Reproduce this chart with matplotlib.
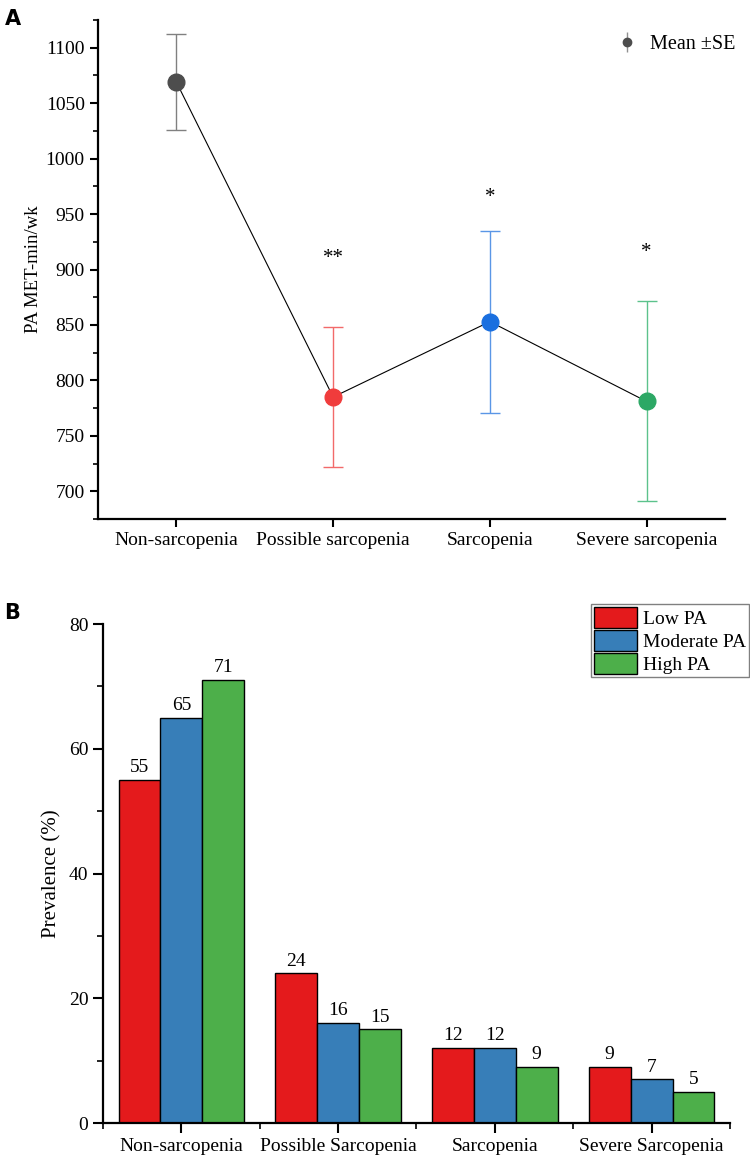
import matplotlib.pyplot as plt
import numpy as np
from matplotlib.ticker import MultipleLocator, AutoMinorLocator, FormatStrFormatter

plt.rcParams['font.family'] = ['Liberation Serif', 'DejaVu Serif']
plt.rcParams['mathtext.fontset'] = 'custom'
plt.rcParams['mathtext.rm'] = 'Liberation Serif'

# panel A data
groups_a = ['Non-sarcopenia', 'Possible sarcopenia', 'Sarcopenia', 'Severe sarcopenia']
mean_pa = [1069, 785, 853, 781]
se_low = [1026, 722, 771, 691]
se_high = [1112, 848, 935, 872]
stars = ['', '**', '*', '*']
star_y = [np.nan, 910, 965, 915]
dot_colors = ['#4d4d4d', '#f03c3c', '#1a6fdf', '#2ca865']
bar_colors = ['#808080', '#f26a6a', '#5a96e6', '#5cc28c']

# panel B data
groups_b = ['Non-sarcopenia', 'Possible Sarcopenia', 'Sarcopenia', 'Severe Sarcopenia']
low_pa = [55, 24, 12, 9]
mod_pa = [65, 16, 12, 7]
high_pa = [71, 15, 9, 5]
series_names = ['Low PA', 'Moderate PA', 'High PA']
series_colors = ['#e41a1c', '#377eb8', '#4daf4a']

fs = 14

fig = plt.figure(figsize=(7.5, 11.64), dpi=100)

# ---- A ----
ax1 = fig.add_axes([0.1307, 0.5541, 0.836, 0.4287])
x = np.arange(len(groups_a))
ax1.plot(x, mean_pa, color='black', lw=0.8, zorder=1)
for i in range(len(x)):
    lo = mean_pa[i] - se_low[i]
    hi = se_high[i] - mean_pa[i]
    ax1.errorbar(x[i], mean_pa[i], yerr=[[lo], [hi]], fmt='none', ecolor=bar_colors[i],
                 elinewidth=1.0, capsize=7, capthick=1.0, zorder=2)
    ax1.plot(x[i], mean_pa[i], 'o', ms=12, color=dot_colors[i], zorder=3)
    if stars[i]:
        ax1.text(x[i], star_y[i], stars[i], ha='center', va='center', fontsize=15)

# legend handle
ax1.errorbar([], [], yerr=[], fmt='o', ms=6, color='#4d4d4d', ecolor='#909090',
             capsize=4, elinewidth=1, label='Mean \u00b1SE')
ax1.legend(loc='upper right', frameon=False, fontsize=14.5, handlelength=1.0,
           bbox_to_anchor=(1.035, 0.995), borderaxespad=0.2, handletextpad=0.6)

ax1.set_xlim(-0.5, 3.5)
ax1.set_ylim(675, 1125)
ax1.set_xticks(x)
ax1.set_xticklabels(groups_a, fontsize=fs)
ax1.yaxis.set_major_locator(MultipleLocator(50))
ax1.yaxis.set_minor_locator(AutoMinorLocator(2))
ax1.yaxis.set_major_formatter(FormatStrFormatter('%d'))
ax1.tick_params(axis='both', which='major', direction='out', length=6, width=1.5, labelsize=fs)
ax1.tick_params(axis='y', which='minor', direction='out', length=3.5, width=1.2)
ax1.set_ylabel('PA MET-min/wk', fontsize=13.5, labelpad=3)
for s in ['top', 'right']:
    ax1.spines[s].set_visible(False)
for s in ['left', 'bottom']:
    ax1.spines[s].set_linewidth(1.6)

fig.text(0.006, 0.992, 'A', fontsize=15, fontweight='bold', family='DejaVu Sans', va='top')

# ---- B ----
ax2 = fig.add_axes([0.1373, 0.0352, 0.836, 0.4287])
xb = np.arange(len(groups_b))
w = 0.267
for k, vals in enumerate([low_pa, mod_pa, high_pa]):
    pos = xb + (k - 1) * w
    ax2.bar(pos, vals, width=w, color=series_colors[k], edgecolor='black',
            linewidth=1.0, label=series_names[k])
    for p, v in zip(pos, vals):
        ax2.text(p, v + 0.6, str(v), ha='center', va='bottom', fontsize=fs)

ax2.set_xlim(-0.5, 3.5)
ax2.set_ylim(0, 80)
ax2.set_xticks(xb)
ax2.set_xticklabels(groups_b, fontsize=fs)
ax2.set_xticks(np.arange(-0.5, 4.0, 1.0), minor=True)
ax2.yaxis.set_major_locator(MultipleLocator(20))
ax2.yaxis.set_minor_locator(AutoMinorLocator(2))
ax2.yaxis.set_major_formatter(FormatStrFormatter('%d'))
ax2.tick_params(axis='both', which='major', direction='out', length=7, width=1.5, labelsize=fs)
ax2.tick_params(axis='both', which='minor', direction='out', length=4, width=1.2)
ax2.set_ylabel('Prevalence (%)', fontsize=15, labelpad=5)
for s in ['top', 'right']:
    ax2.spines[s].set_visible(False)
for s in ['left', 'bottom']:
    ax2.spines[s].set_linewidth(1.6)

leg = ax2.legend(loc='upper right', fontsize=fs, fancybox=False, framealpha=1,
                 edgecolor='#808080', handlelength=2.2, handleheight=1.3,
                 handletextpad=0.3, labelspacing=0.1, borderpad=0.15,
                 borderaxespad=0.0, bbox_to_anchor=(1.03, 1.04))
leg.get_frame().set_linewidth(1.0)

fig.text(0.006, 0.482, 'B', fontsize=15, fontweight='bold', family='DejaVu Sans', va='top')

fig.savefig('out.png', dpi=100)
